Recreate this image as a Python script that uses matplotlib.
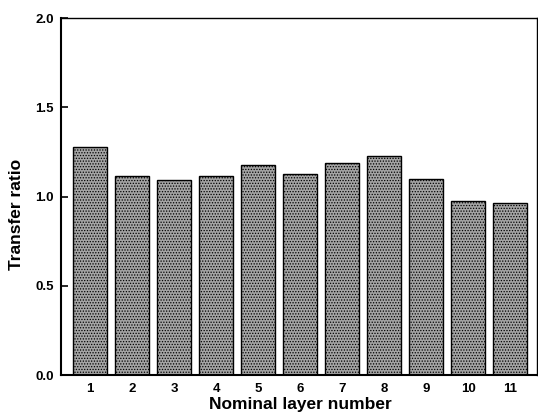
import matplotlib.pyplot as plt

plt.rcParams["font.family"] = ["Liberation Sans", "DejaVu Sans"]
plt.rcParams["font.weight"] = "bold"
plt.rcParams["hatch.linewidth"] = 0.6
plt.rcParams["hatch.color"] = "#3a3a3a"

# Values
layers = [1, 2, 3, 4, 5, 6, 7, 8, 9, 10, 11]
transfer_ratio = [1.28, 1.115, 1.095, 1.115, 1.175, 1.125, 1.19, 1.225, 1.10, 0.975, 0.962]
y_ticks = [0.0, 0.5, 1.0, 1.5, 2.0]

fig = plt.figure(figsize=(5.38, 4.17), dpi=100)
ax = fig.add_axes([0.1134, 0.1007, 0.8848, 0.856])

ax.bar(layers, transfer_ratio, width=0.8, color="#a4a4a4", edgecolor="black",
       linewidth=1.0, hatch="......")

ax.set_xlim(0.31, 11.64)
ax.set_ylim(0, 2.0)
ax.set_xticks(layers)
ax.set_yticks(y_ticks)
ax.set_yticklabels([f"{v:.1f}" for v in y_ticks])
ax.tick_params(axis="y", direction="in", length=5, width=1.2, labelsize=9.5, pad=5)
ax.tick_params(axis="x", length=0, labelsize=9.5, pad=6)

for side in ["left", "bottom"]:
    ax.spines[side].set_linewidth(1.5)
for side in ["top", "right"]:
    ax.spines[side].set_linewidth(1.0)

ax.set_xlabel("Nominal layer number", fontsize=12.5, fontweight="bold")
ax.set_ylabel("Transfer ratio", fontsize=12.5, fontweight="bold")
ax.xaxis.set_label_coords(0.502, -0.063)
ax.yaxis.set_label_coords(-0.078, 0.45)

fig.savefig("out.png", dpi=100)
